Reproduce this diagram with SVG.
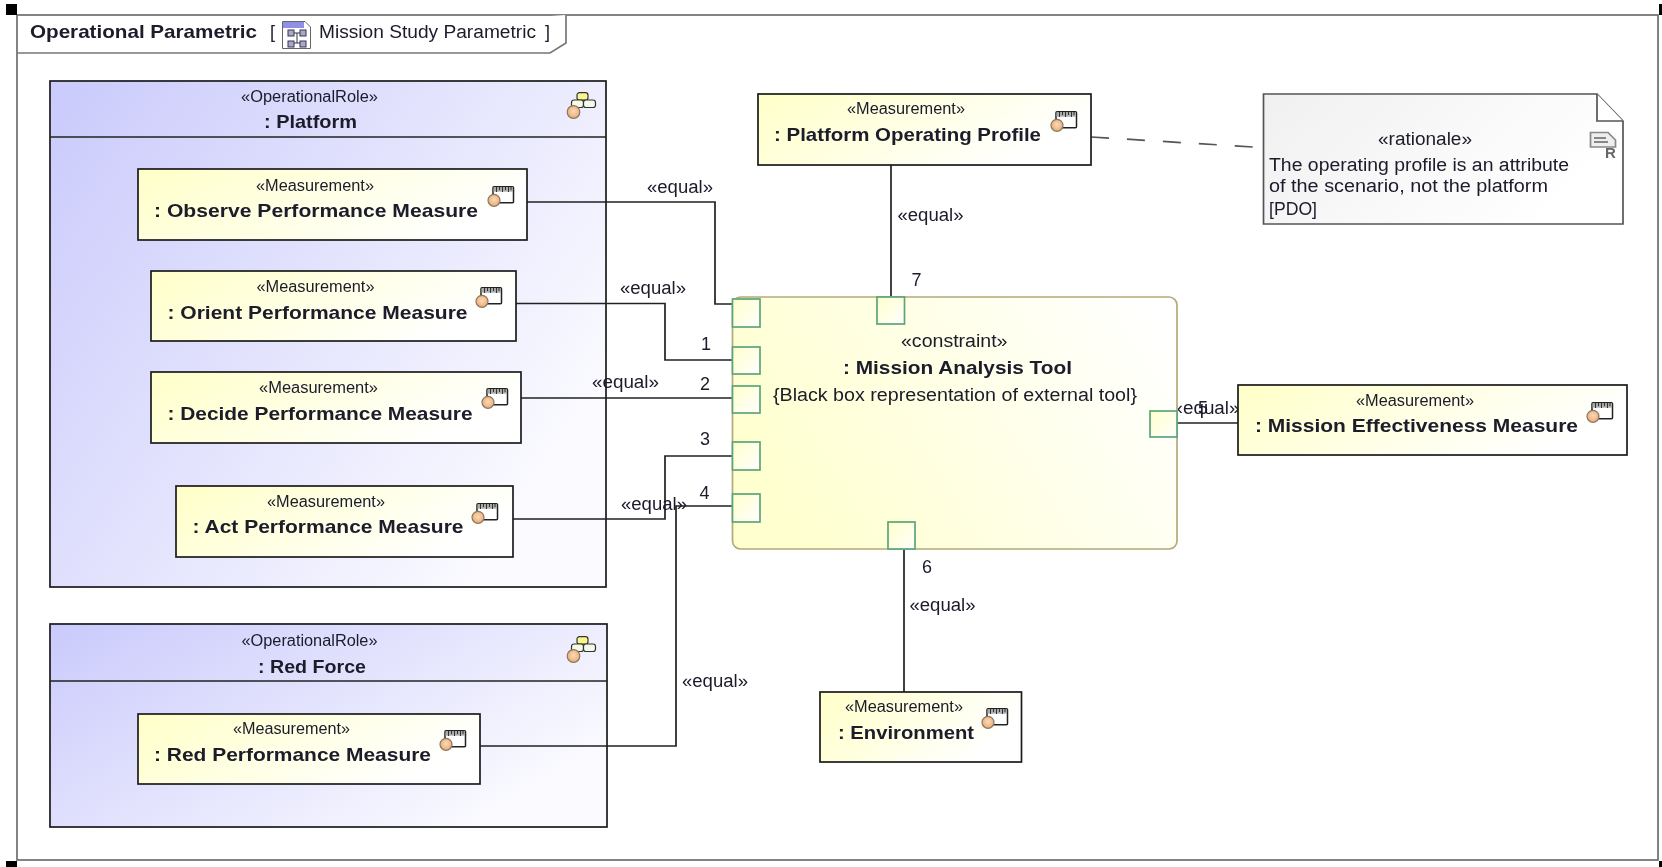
<svg xmlns="http://www.w3.org/2000/svg" width="1662" height="867" viewBox="0 0 1662 867">
<style>
text{font-family:"Liberation Sans",Arial,sans-serif;fill:#1a1a2a}
.st{font-size:16px}
.nm{font-size:19px;font-weight:bold}
.lb{font-size:18px}
.title{font-size:19px;font-weight:bold}
.box{stroke:#1c1c1c;stroke-width:1.700;fill:url(#yel)}
.role{stroke:#1c1c1c;stroke-width:1.700;fill:url(#blu)}
.port{stroke:#5ca57a;stroke-width:1.700;fill:url(#prt)}
.con{fill:none;stroke:#222;stroke-width:1.700}
</style>
<defs>
<filter id="soft" x="0" y="0" width="1" height="1" filterUnits="objectBoundingBox"><feGaussianBlur stdDeviation="0.4"/></filter>
<linearGradient id="yel" x1="0" y1="0" x2="1" y2="0.35"><stop offset="0" stop-color="#ffffc8"/><stop offset="1" stop-color="#ffffff"/></linearGradient>
<linearGradient id="blu" x1="0" y1="0" x2="1" y2="0.6"><stop offset="0" stop-color="#cacafc"/><stop offset="1" stop-color="#fafaff"/></linearGradient>
<linearGradient id="tool" x1="0" y1="0.5" x2="1" y2="0.15"><stop offset="0" stop-color="#ffffd0"/><stop offset="1" stop-color="#ffffff"/></linearGradient>
<linearGradient id="prt" x1="0" y1="0" x2="1" y2="1"><stop offset="0" stop-color="#ffffcc"/><stop offset="1" stop-color="#ffffff"/></linearGradient>
<linearGradient id="note" x1="0" y1="0" x2="1" y2="0.4"><stop offset="0" stop-color="#f0f0f0"/><stop offset="1" stop-color="#ffffff"/></linearGradient>
<radialGradient id="ball" cx="0.5" cy="0.45" r="0.6"><stop offset="0" stop-color="#fbdcb8"/><stop offset="1" stop-color="#eba46e"/></radialGradient>
<symbol id="ruler" viewBox="0 0 26 21" width="26" height="21" overflow="visible">
<rect x="5" y="0.700" width="20.500" height="16" rx="1" fill="#fff" stroke="#222" stroke-width="1.500"/>
<rect x="5.500" y="1.200" width="19.500" height="4.500" fill="#aaa"/>
<path d="M8.500 1v5M11.500 1v3M14.500 1v5M17.500 1v3M20.500 1v5M23 1v3" stroke="#333" stroke-width="1"/>
<circle cx="6" cy="14.300" r="6" fill="url(#ball)" stroke="#8a7860" stroke-width="1.200"/>
</symbol>
<symbol id="blocks" viewBox="0 0 29 27" width="29" height="27" overflow="visible">
<rect x="10" y="0.700" width="11" height="7.500" rx="2.500" fill="#fbf68c" stroke="#333" stroke-width="1.200"/>
<rect x="4.500" y="8" width="12" height="7.500" rx="2.500" fill="#f4fbe8" stroke="#333" stroke-width="1.200"/>
<rect x="16.500" y="8" width="12" height="7.500" rx="2.500" fill="#f4fbe8" stroke="#333" stroke-width="1.200"/>
<circle cx="6.500" cy="20" r="6.300" fill="url(#ball)" stroke="#8a7860" stroke-width="1.200"/>
</symbol>
</defs>
<rect width="1662" height="867" fill="#fff"/>
<g filter="url(#soft)">

<g id="frame">
<rect x="17" y="15" width="1641" height="845" fill="none" stroke="#6e6e6e" stroke-width="1.700"/>
<path d="M17 53H550L566 43V15" fill="#fff" stroke="#777" stroke-width="1.700"/>
<rect x="6" y="4" width="11" height="11" fill="#000"/><rect x="6" y="861" width="11" height="6" fill="#000"/>
<rect x="1659" y="4" width="3" height="11" fill="#000"/><rect x="1659" y="861" width="3" height="6" fill="#000"/>
<text class="title" x="30" y="38" textLength="227" lengthAdjust="spacingAndGlyphs">Operational Parametric</text>
<text class="lb" x="270" y="38">[</text>
<g id="diagram-icon">
<path d="M282.500 21.500H305L310.500 27V48.500H282.500Z" fill="#fff" stroke="#666"/>
<path d="M283 22H304V28H283Z" fill="#8f8fe8"/>
<path d="M292 33h10M292 43h10M297 33v10" stroke="#334" fill="none"/>
<rect x="288" y="30" width="6" height="6" fill="#aab" stroke="#336"/><rect x="300" y="30" width="6" height="6" fill="#aab" stroke="#336"/>
<rect x="288" y="41" width="6" height="6" fill="#aab" stroke="#336"/><rect x="300" y="41" width="6" height="6" fill="#aab" stroke="#336"/>
</g>
<text class="lb" x="319" y="38" textLength="217" lengthAdjust="spacingAndGlyphs">Mission Study Parametric</text>
<text class="lb" x="545" y="38">]</text>
</g>

<g id="platform">
<rect class="role" x="50" y="81" width="556" height="506"/>
<path class="con" d="M50 137H606"/>
<text class="st" x="241" y="102" textLength="137" lengthAdjust="spacingAndGlyphs">«OperationalRole»</text>
<text class="nm" x="264" y="128" textLength="93" lengthAdjust="spacingAndGlyphs">: Platform</text>
<use href="#blocks" x="567" y="92"/>
</g>

<g id="red-force">
<rect class="role" x="50" y="624" width="557" height="203"/>
<path class="con" d="M50 681H607"/>
<text class="st" x="241.500" y="646" textLength="136" lengthAdjust="spacingAndGlyphs">«OperationalRole»</text>
<text class="nm" x="258" y="673" textLength="108" lengthAdjust="spacingAndGlyphs">: Red Force</text>
<use href="#blocks" x="567" y="636"/>
</g>

<g id="connectors">
<path class="con" d="M527 202H715V304H733"/>
<path class="con" d="M516 303.500H665V360H733"/>
<path class="con" d="M521 398H733"/>
<path class="con" d="M513 519H665V456H733"/>
<path class="con" d="M480 746H676V506H733"/>
<path class="con" d="M891 165V297"/>
<path class="con" d="M904 549V692"/>
<path class="con" d="M1177 423H1238"/>
<path class="con" d="M1091 137L1253 147" style="stroke:#555;stroke-dasharray:18 18"/>
<text class="lb" x="647" y="193" textLength="66" lengthAdjust="spacingAndGlyphs">«equal»</text>
<text class="lb" x="620" y="294" textLength="66" lengthAdjust="spacingAndGlyphs">«equal»</text>
<text class="lb" x="592" y="388" textLength="67" lengthAdjust="spacingAndGlyphs">«equal»</text>
<text class="lb" x="621" y="510" textLength="66" lengthAdjust="spacingAndGlyphs">«equal»</text>
<text class="lb" x="682" y="687" textLength="66" lengthAdjust="spacingAndGlyphs">«equal»</text>
<text class="lb" x="897.500" y="221" textLength="66" lengthAdjust="spacingAndGlyphs">«equal»</text>
<text class="lb" x="909.500" y="611" textLength="66" lengthAdjust="spacingAndGlyphs">«equal»</text>
<text class="lb" x="1172.500" y="414" textLength="67" lengthAdjust="spacingAndGlyphs">«equal»</text>
<text class="lb" x="701" y="350">1</text>
<text class="lb" x="700" y="390">2</text>
<text class="lb" x="700" y="445">3</text>
<text class="lb" x="699.500" y="499">4</text>
<text class="lb" x="1198" y="414">5</text>
<text class="lb" x="922" y="573">6</text>
<text class="lb" x="911.500" y="286">7</text>
</g>

<g id="observe">
<rect class="box" x="138" y="169" width="389" height="71"/>
<text class="st" x="256" y="191" textLength="118" lengthAdjust="spacingAndGlyphs">«Measurement»</text>
<text class="nm" x="154" y="217" textLength="324" lengthAdjust="spacingAndGlyphs">: Observe Performance Measure</text>
<use href="#ruler" x="488" y="186"/>
</g>
<g id="orient">
<rect class="box" x="151" y="271" width="365" height="70"/>
<text class="st" x="256.500" y="292" textLength="118" lengthAdjust="spacingAndGlyphs">«Measurement»</text>
<text class="nm" x="167.500" y="319" textLength="300" lengthAdjust="spacingAndGlyphs">: Orient Performance Measure</text>
<use href="#ruler" x="476" y="287"/>
</g>
<g id="decide">
<rect class="box" x="151" y="372" width="370" height="71"/>
<text class="st" x="259" y="393" textLength="119" lengthAdjust="spacingAndGlyphs">«Measurement»</text>
<text class="nm" x="167.500" y="420" textLength="305" lengthAdjust="spacingAndGlyphs">: Decide Performance Measure</text>
<use href="#ruler" x="482" y="388"/>
</g>
<g id="act">
<rect class="box" x="176" y="486" width="337" height="71"/>
<text class="st" x="267" y="507" textLength="118" lengthAdjust="spacingAndGlyphs">«Measurement»</text>
<text class="nm" x="192.500" y="533" textLength="271" lengthAdjust="spacingAndGlyphs">: Act Performance Measure</text>
<use href="#ruler" x="472" y="503"/>
</g>
<g id="red-perf">
<rect class="box" x="138" y="714" width="342" height="70"/>
<text class="st" x="233" y="734" textLength="117" lengthAdjust="spacingAndGlyphs">«Measurement»</text>
<text class="nm" x="154" y="761" textLength="277" lengthAdjust="spacingAndGlyphs">: Red Performance Measure</text>
<use href="#ruler" x="440" y="730"/>
</g>
<g id="operating-profile">
<rect class="box" x="758" y="94" width="333" height="71"/>
<text class="st" x="847" y="114" textLength="118" lengthAdjust="spacingAndGlyphs">«Measurement»</text>
<text class="nm" x="774" y="141" textLength="267" lengthAdjust="spacingAndGlyphs">: Platform Operating Profile</text>
<use href="#ruler" x="1051" y="111"/>
</g>
<g id="effectiveness">
<rect class="box" x="1238" y="385" width="389" height="70"/>
<text class="st" x="1356" y="406" textLength="118" lengthAdjust="spacingAndGlyphs">«Measurement»</text>
<text class="nm" x="1255" y="432" textLength="323" lengthAdjust="spacingAndGlyphs">: Mission Effectiveness Measure</text>
<use href="#ruler" x="1587" y="402"/>
</g>
<g id="environment">
<rect class="box" x="820" y="692" width="201.500" height="70"/>
<text class="st" x="845" y="712" textLength="118" lengthAdjust="spacingAndGlyphs">«Measurement»</text>
<text class="nm" x="838" y="739" textLength="136" lengthAdjust="spacingAndGlyphs">: Environment</text>
<use href="#ruler" x="982" y="708"/>
</g>

<g id="mission-tool">
<rect x="732.500" y="297" width="444.500" height="252" rx="8" fill="url(#tool)" stroke="#b3aa7a" stroke-width="1.700"/>
<rect class="port" x="732.500" y="299" width="27.500" height="28"/>
<rect class="port" x="732.500" y="347" width="27.500" height="27"/>
<rect class="port" x="732.500" y="386" width="27.500" height="27"/>
<rect class="port" x="732.500" y="442" width="27.500" height="28"/>
<rect class="port" x="732.500" y="494" width="27.500" height="28"/>
<rect class="port" x="877" y="297" width="27.500" height="27"/>
<rect class="port" x="888" y="522" width="27" height="27"/>
<rect class="port" x="1150" y="411" width="27" height="26"/>
<text class="lb" x="901" y="347" textLength="106.500" lengthAdjust="spacingAndGlyphs">«constraint»</text>
<text class="nm" x="843" y="374" textLength="229" lengthAdjust="spacingAndGlyphs">: Mission Analysis Tool</text>
<text class="lb" x="773" y="401" textLength="364" lengthAdjust="spacingAndGlyphs">{Black box representation of external tool}</text>
</g>

<g id="rationale">
<path d="M1263.500 94H1597L1623 121V224H1263.500Z" fill="url(#note)" stroke="#555" stroke-width="1.700"/>
<path d="M1597 94V121H1623" fill="#fff" stroke="#555" stroke-width="1.700"/>
<path d="M1590.500 132.500H1608L1615.500 140V147H1590.500Z" fill="#eee" stroke="#888" stroke-width="1.700"/>
<path d="M1594 138H1606M1594 142H1608" stroke="#666" stroke-width="1.700"/>
<text x="1605" y="158" style="font-size:15px;font-weight:bold;fill:#666">R</text>
<text class="lb" x="1378" y="145" textLength="94" lengthAdjust="spacingAndGlyphs">«rationale»</text>
<text class="lb" x="1269" y="171" textLength="300" lengthAdjust="spacingAndGlyphs">The operating profile is an attribute</text>
<text class="lb" x="1269" y="192" textLength="279" lengthAdjust="spacingAndGlyphs">of the scenario, not the platform</text>
<text class="lb" x="1269" y="215" textLength="48" lengthAdjust="spacingAndGlyphs">[PDO]</text>
</g>
</g>
</svg>
